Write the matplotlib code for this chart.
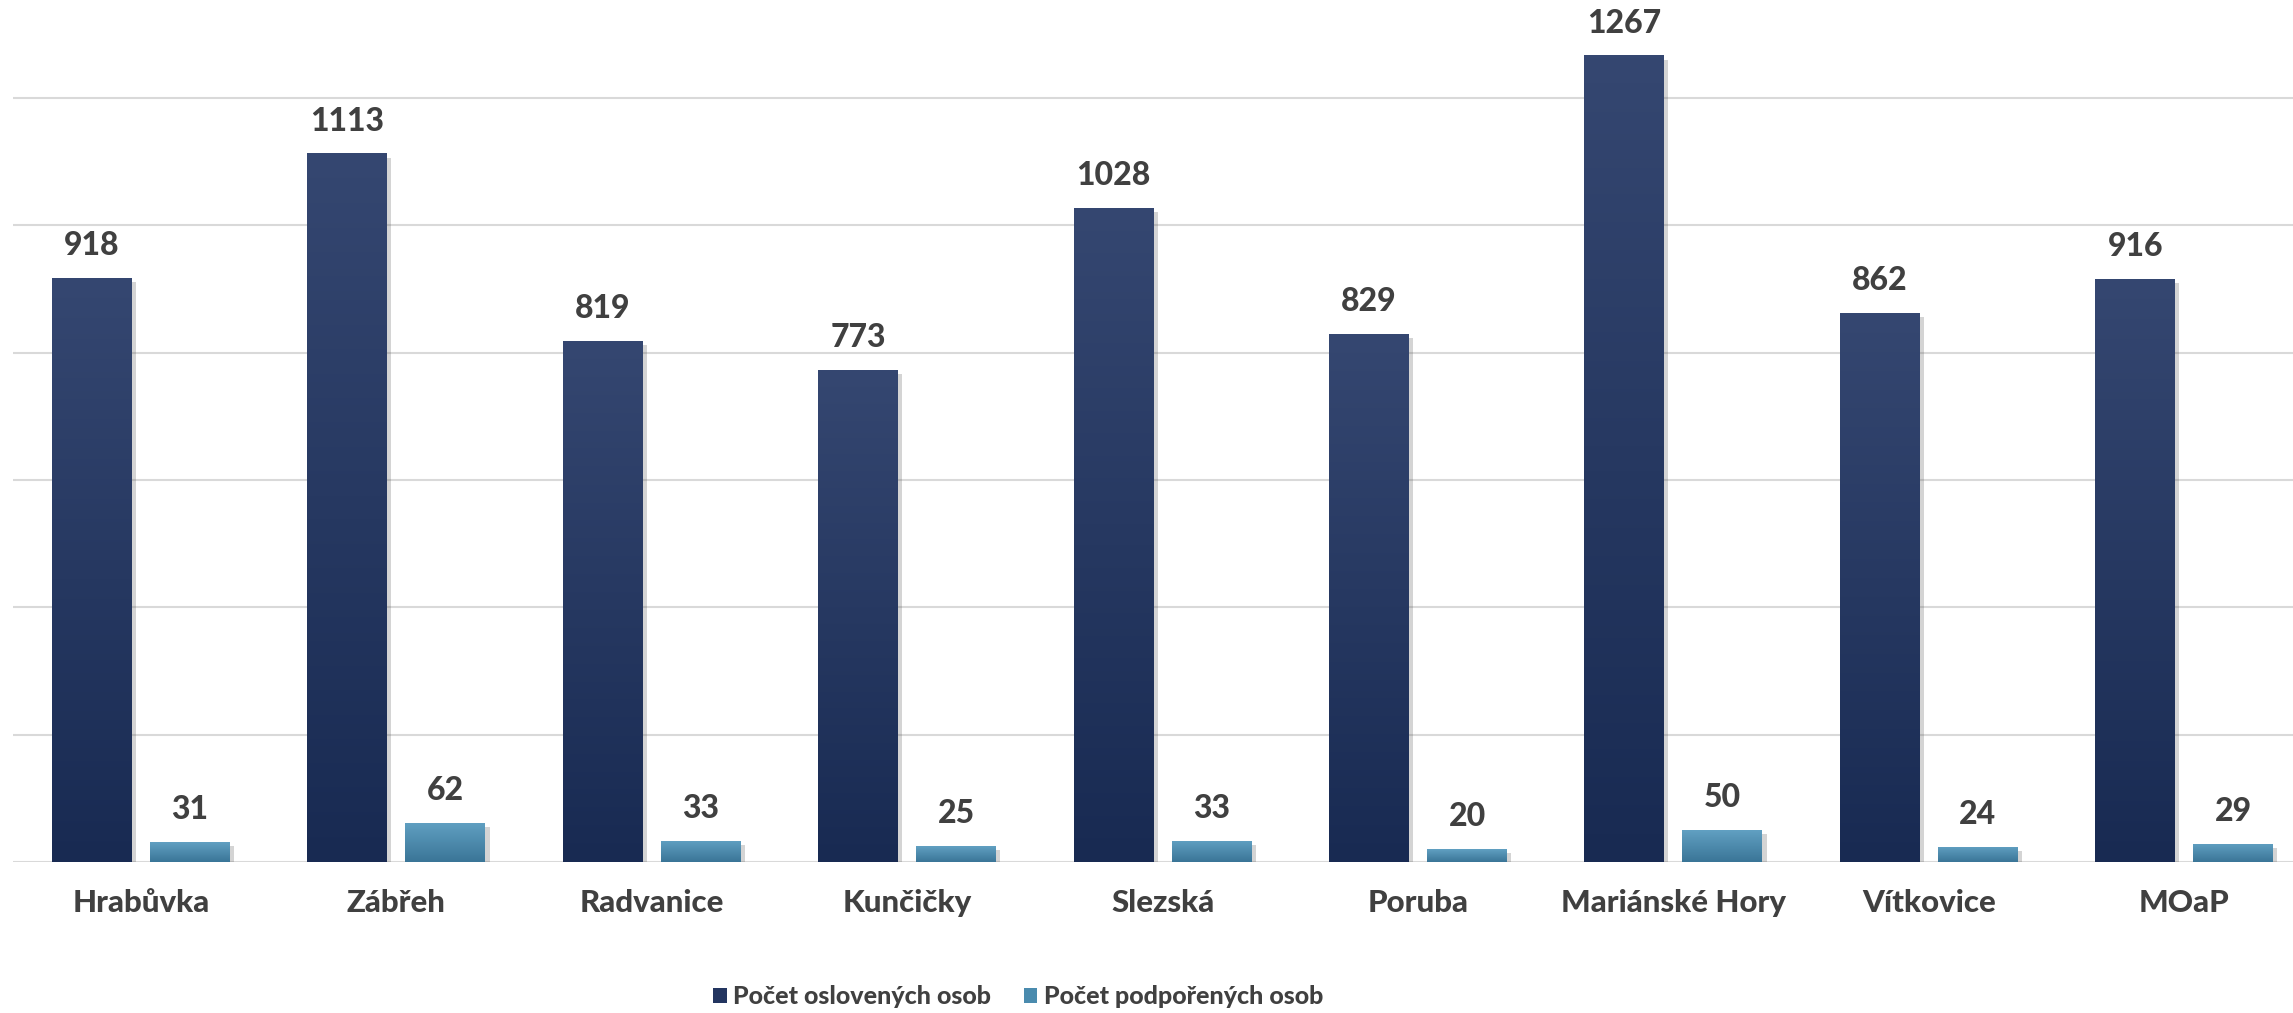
import numpy as np
import matplotlib
matplotlib.use("Agg")
import matplotlib.pyplot as plt
import matplotlib.patheffects as pe
from matplotlib.colors import LinearSegmentedColormap
from matplotlib.patches import Patch

plt.rcParams['font.family'] = ['Lato', 'DejaVu Sans']

categories = ["Hrabůvka", "Zábřeh", "Radvanice", "Kunčičky", "Slezská",
              "Poruba", "Mariánské Hory", "Vítkovice", "MOaP"]
osloveni = [918, 1113, 819, 773, 1028, 829, 1267, 862, 916]
podporeni = [31, 62, 33, 25, 33, 20, 50, 24, 29]
series_names = ["Počet oslovených osob", "Počet podpořených osob"]

txt = "#404040"
dark_cmap = LinearSegmentedColormap.from_list("d", ["#182a52", "#354771"])
light_cmap = LinearSegmentedColormap.from_list("l", ["#3a7597", "#61a0c2"])

fig = plt.figure(figsize=(22.93, 10.13), dpi=100)
ax = fig.add_axes([0, 151 / 1013, 1, 862 / 1013])

x = np.arange(len(categories))
w = 0.313
off = 0.192
grad = np.linspace(0, 1, 256).reshape(-1, 1)

for vals, sign, cmap in [(osloveni, -1, dark_cmap), (podporeni, 1, light_cmap)]:
    bars = ax.bar(x + sign * off, vals, w, color="none", zorder=3,
                  path_effects=[pe.SimplePatchShadow(offset=(3, -3), alpha=0.25,
                                                     shadow_rgbFace="#555555")])
    for b, v in zip(bars, vals):
        x0, y0 = b.get_x(), b.get_y()
        im = ax.imshow(grad, cmap=cmap, origin="lower", aspect="auto",
                       extent=[x0, x0 + b.get_width(), y0, y0 + b.get_height()],
                       zorder=4)
        im.set_clip_path(b)
        ax.text(b.get_x() + b.get_width() / 2, v + 28, str(v), ha="center",
                va="bottom", fontsize=23, fontweight="black", color=txt, zorder=5)

ax.hlines(np.arange(0, 1400, 200), -0.5, 9, color="#d9d9d9", lw=1.5, zorder=1)

ax.set_xlim(-0.552, 8.426)
ax.set_ylim(0, 1354)
ax.axis("off")

for i, c in enumerate(categories):
    ax.text(i, -64, c, ha="center", va="center",
            fontsize=22.5, fontweight="black", color=txt)

handles = [Patch(facecolor="#233560"), Patch(facecolor="#4a8bae")]
fig.legend(handles, series_names, loc="center", bbox_to_anchor=(0.444, 0.016),
           ncol=2, frameon=False,
           prop={"size": 18, "weight": "black"},
           labelcolor=txt, handlelength=0.55, handleheight=0.6,
           handletextpad=0.25, columnspacing=1.3)

fig.savefig("out.png", dpi=100)
